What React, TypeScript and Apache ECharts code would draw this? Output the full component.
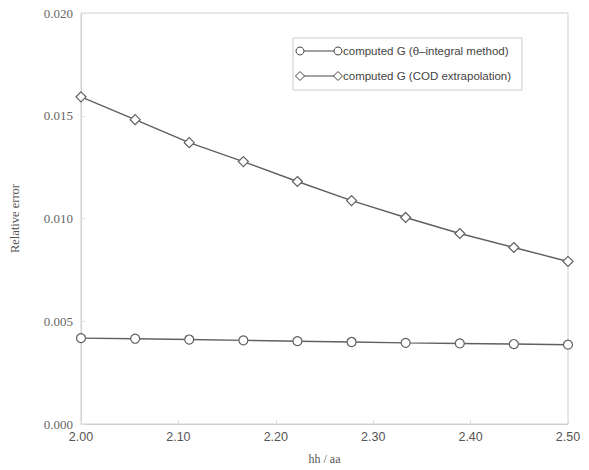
import React, { useEffect, useRef } from "react";
import * as echarts from "echarts";

const xValues = [2.0, 2.0556, 2.1111, 2.1667, 2.2222, 2.2778, 2.3333, 2.3889, 2.4444, 2.5];
const thetaIntegral = [0.00418, 0.00415, 0.00411, 0.00407, 0.00403, 0.00399, 0.00395, 0.00392, 0.00389, 0.00386];
const codExtrapolation = [0.01592, 0.01481, 0.01369, 0.01277, 0.0118, 0.01087, 0.01005, 0.00927, 0.00859, 0.00791];
const seriesNames = ["computed G (θ–integral method)", "computed G (COD extrapolation)"];
const xTicks = [2.0, 2.1, 2.2, 2.3, 2.4, 2.5];
const yTicks = [0, 0.005, 0.01, 0.015, 0.02];

export default function App() {
  const ref = useRef<HTMLDivElement>(null);
  useEffect(() => {
    const chart = echarts.init(ref.current!, null, { renderer: "svg" });
    const lineColor = "#606060";
    const legendX = 293;
    const legendY = 38;
    const row1 = 51;
    const row2 = 76;
    chart.setOption({
      animation: false,
      backgroundColor: "#ffffff",
      grid: { left: 79, right: 21, top: 13, bottom: 45, show: true, borderColor: "#d0d0d0", borderWidth: 1 },
      xAxis: {
        type: "value",
        min: 2.0,
        max: 2.5,
        interval: 0.1,
        name: "hh / aa",
        nameLocation: "middle",
        nameGap: 29,
        nameTextStyle: { fontFamily: "Liberation Serif", fontSize: 12, color: "#555" },
        axisLine: { show: true, lineStyle: { color: "#cfcfcf" } },
        axisTick: { show: true, inside: true, length: 4, lineStyle: { color: "#dddddd" } },
        splitLine: { show: false },
        axisLabel: {
          fontFamily: "Liberation Sans",
          fontSize: 12.5,
          color: "#555",
          margin: 6,
          formatter: (v: number) => (xTicks.some((t) => Math.abs(t - v) < 1e-9) ? v.toFixed(2) : ""),
        },
      },
      yAxis: {
        type: "value",
        min: 0,
        max: 0.02,
        interval: 0.005,
        name: "Relative error",
        nameLocation: "middle",
        nameGap: 60,
        nameTextStyle: { fontFamily: "Liberation Serif", fontSize: 12.5, color: "#555" },
        axisLine: { show: true, lineStyle: { color: "#cfcfcf" } },
        axisTick: { show: true, inside: true, length: 4, lineStyle: { color: "#dddddd" } },
        splitLine: { show: false },
        axisLabel: {
          fontFamily: "Liberation Serif",
          fontSize: 13,
          color: "#666",
          margin: 8,
          formatter: (v: number) => (yTicks.some((t) => Math.abs(t - v) < 1e-9) ? v.toFixed(3) : ""),
        },
      },
      series: [
        {
          name: seriesNames[0],
          type: "line",
          data: xValues.map((x, i) => [x, thetaIntegral[i]]),
          symbol: "circle",
          symbolSize: 9,
          showAllSymbol: true,
          lineStyle: { color: lineColor, width: 1.4 },
          itemStyle: { color: "#ffffff", borderColor: lineColor, borderWidth: 1.2 },
        },
        {
          name: seriesNames[1],
          type: "line",
          data: xValues.map((x, i) => [x, codExtrapolation[i]]),
          symbol: "diamond",
          symbolSize: 10,
          showAllSymbol: true,
          lineStyle: { color: lineColor, width: 1.4 },
          itemStyle: { color: "#ffffff", borderColor: lineColor, borderWidth: 1.2 },
        },
      ],
      graphic: [
        {
          type: "rect",
          shape: { x: legendX, y: legendY, width: 229, height: 52 },
          style: { fill: "#ffffff", stroke: "#cccccc", lineWidth: 1 },
          z: 100,
        },
        {
          type: "line",
          shape: { x1: 304, y1: row1, x2: 334, y2: row1 },
          style: { stroke: "#444", lineWidth: 1 },
          z: 101,
        },
        { type: "circle", shape: { cx: 300, cy: row1, r: 4 }, style: { fill: "#fff", stroke: "#444", lineWidth: 1 }, z: 102 },
        { type: "circle", shape: { cx: 338, cy: row1, r: 4 }, style: { fill: "#fff", stroke: "#444", lineWidth: 1 }, z: 102 },
        {
          type: "text",
          x: 343,
          y: row1,
          style: { text: seriesNames[0], fontFamily: "Liberation Sans", fontSize: 11.5, fill: "#444", verticalAlign: "middle" },
          z: 103,
        },
        {
          type: "line",
          shape: { x1: 304, y1: row2, x2: 334, y2: row2 },
          style: { stroke: "#444", lineWidth: 1 },
          z: 101,
        },
        {
          type: "polygon",
          shape: { points: [[300, row2 - 4.5], [304.5, row2], [300, row2 + 4.5], [295.5, row2]] },
          style: { fill: "#fff", stroke: "#444", lineWidth: 1 },
          z: 102,
        },
        {
          type: "polygon",
          shape: { points: [[338, row2 - 4.5], [342.5, row2], [338, row2 + 4.5], [333.5, row2]] },
          style: { fill: "#fff", stroke: "#444", lineWidth: 1 },
          z: 102,
        },
        {
          type: "text",
          x: 343,
          y: row2,
          style: { text: seriesNames[1], fontFamily: "Liberation Sans", fontSize: 11.5, fill: "#444", verticalAlign: "middle" },
          z: 103,
        },
      ],
    });
    return () => chart.dispose();
  }, []);
  return <div ref={ref} style={{ position: "absolute", left: 0, top: 0, width: 589, height: 470 }} />;
}
